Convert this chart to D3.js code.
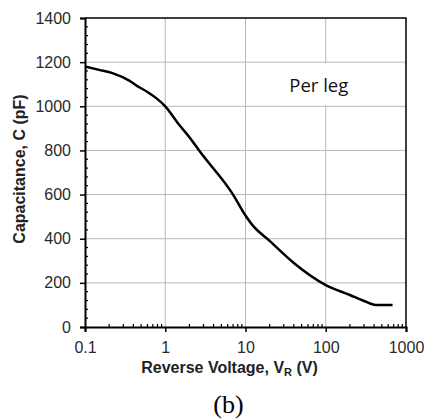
<!DOCTYPE html>
<html>
<head>
<meta charset="utf-8">
<script src="https://cdn.jsdelivr.net/npm/d3@7"></script>
<style>
  body { margin: 0; background: #fff; }
  svg { display: block; }
</style>
</head>
<body>
<div id="container"></div>
<script>
// capacitance curve
var voltage = [0.1, 0.15, 0.22, 0.36, 0.48, 0.6, 1, 1.5, 2, 2.7, 7, 10, 12, 20, 40, 100, 200, 300, 420, 680]
var capacitance = [1180, 1165, 1150, 1115, 1085, 1065, 1000, 915, 860, 795, 600, 505, 465, 390, 290, 190, 145, 118, 100, 100]

var xTicks = [0.1, 1, 10, 100, 1000]
var xTickLabels = ['0.1', '1', '10', '100', '1000']
var yTicks = [0, 200, 400, 600, 800, 1000, 1200, 1400]

var W = 424, H = 419
var margin = { top: 18, right: 18, bottom: 92, left: 85 },
    width = W - margin.left - margin.right,
    height = H - margin.top - margin.bottom

var svg = d3.select('#container')
    .append('svg')
    .attr('width', W)
    .attr('height', H)
    .append('g')
    .attr('transform', 'translate(' + margin.left + ',' + margin.top + ')')

var x = d3.scaleLog().domain([0.1, 1000]).range([0, width])
var y = d3.scaleLinear().domain([0, 1400]).range([height, 0])

// grid
svg.append('g')
    .selectAll('line')
    .data(xTicks.slice(1, -1))
    .enter().append('line')
    .attr('x1', d => x(d)).attr('x2', d => x(d))
    .attr('y1', 0).attr('y2', height)
    .style('stroke', '#b8b8b8').style('stroke-width', 1)

svg.append('g')
    .selectAll('line')
    .data(yTicks.slice(1, -1))
    .enter().append('line')
    .attr('x1', 0).attr('x2', width)
    .attr('y1', d => y(d)).attr('y2', d => y(d))
    .style('stroke', '#b8b8b8').style('stroke-width', 1)

// label box covers grid
svg.append('rect')
    .attr('x', 198).attr('y', y(1195))
    .attr('width', 73).attr('height', y(1005) - y(1195))
    .style('fill', '#fff')

svg.append('text')
    .attr('x', x(100) - 7)
    .attr('y', 74)
    .attr('text-anchor', 'middle')
    .style('font-family', 'Open Sans, Noto Sans, sans-serif')
    .style('font-size', '18.5px')
    .style('fill', '#111')
    .text('Per leg')

// frame top/right
svg.append('path')
    .attr('d', 'M0,0H' + width + 'V' + height)
    .style('fill', 'none').style('stroke', '#000').style('stroke-width', 1.5)

// minor ticks
var yMinor = d3.range(0, 1401, 40).filter(d => d % 200 !== 0)
svg.append('g')
    .selectAll('line')
    .data(yMinor)
    .enter().append('line')
    .attr('x1', 0).attr('x2', 3)
    .attr('y1', d => y(d)).attr('y2', d => y(d))
    .style('stroke', '#000').style('stroke-width', 1.2)

var xMinor = []
xTicks.slice(0, -1).forEach(function(d) {
    for (var k = 2; k <= 9; k++) xMinor.push(d * k)
})
svg.append('g')
    .selectAll('line')
    .data(xMinor)
    .enter().append('line')
    .attr('x1', d => x(d)).attr('x2', d => x(d))
    .attr('y1', height).attr('y2', height - 3)
    .style('stroke', '#000').style('stroke-width', 1.2)

// axes
var yAxis = svg.append('g')
    .call(d3.axisLeft(y).tickValues(yTicks).tickSize(5).tickPadding(9).tickFormat(d3.format('d')))
var xAxis = svg.append('g')
    .attr('transform', 'translate(0,' + height + ')')
    .call(d3.axisBottom(x).tickValues(xTicks).tickSize(5).tickPadding(10)
        .tickFormat((d, i) => xTickLabels[i]))

;[xAxis, yAxis].forEach(function(a) {
    a.select('.domain').style('stroke-width', 2)
    a.selectAll('.tick line').style('stroke-width', 1.5)
    a.selectAll('.tick text')
        .style('font-family', 'Liberation Sans, Arial, sans-serif')
        .style('font-size', '16px')
        .style('fill', '#2a2a2a')
})

// curve
svg.append('path')
    .datum(voltage.map((v, i) => [v, capacitance[i]]))
    .attr('d', d3.line().x(d => x(d[0])).y(d => y(d[1])).curve(d3.curveMonotoneX))
    .style('fill', 'none')
    .style('stroke', '#000')
    .style('stroke-width', 2.5)

// axis titles
svg.append('text')
    .attr('transform', 'translate(-60,151) rotate(-90)')
    .attr('text-anchor', 'middle')
    .style('font-family', 'Liberation Sans, Arial, sans-serif')
    .style('font-size', '16px')
    .style('font-weight', 'bold')
    .style('fill', '#222')
    .text('Capacitance, C (pF)')

var xt = svg.append('text')
    .attr('x', x(10) - 16)
    .attr('y', height + 46)
    .attr('text-anchor', 'middle')
    .style('font-family', 'Liberation Sans, Arial, sans-serif')
    .style('font-size', '16px')
    .style('font-weight', 'bold')
    .style('fill', '#222')
xt.append('tspan').text('Reverse Voltage, V')
xt.append('tspan').attr('dy', 3).style('font-size', '11px').text('R')
xt.append('tspan').attr('dy', -3).text(' (V)')

svg.append('text')
    .attr('x', x(10) - 17)
    .attr('y', height + 86)
    .attr('text-anchor', 'middle')
    .style('font-family', 'Liberation Serif, serif')
    .style('font-size', '26px')
    .style('fill', '#000')
    .text('(b)')
</script>
</body>
</html>
